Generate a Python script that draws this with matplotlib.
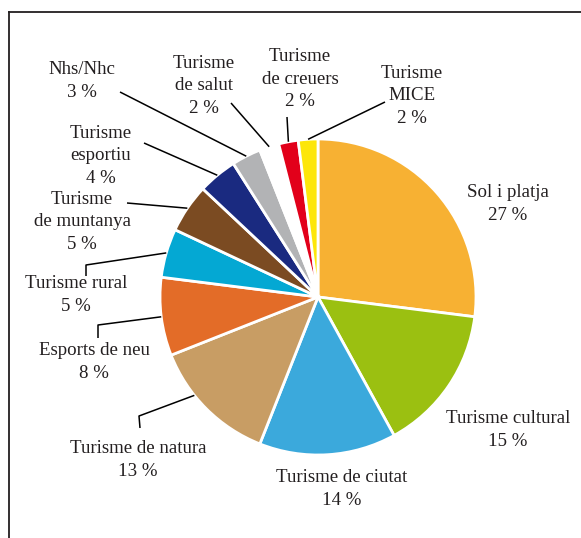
import numpy as np
import matplotlib
matplotlib.use("Agg")
import matplotlib.pyplot as plt
from matplotlib.lines import Line2D

# data
labels = ["Sol i platja", "Turisme cultural", "Turisme de ciutat", "Turisme de natura",
          "Esports de neu", "Turisme rural", "Turisme\nde muntanya", "Turisme\nesportiu",
          "Nhs/Nhc", "Turisme\nde salut", "Turisme\nde creuers", "Turisme\nMICE"]
values = [27, 15, 14, 13, 8, 5, 5, 4, 3, 2, 2, 2]
colors = ["#F7B133", "#9BC011", "#3BA9DC", "#C89D64", "#E36C28", "#04A8D3",
          "#7B4B22", "#1A2A80", "#B2B3B5", "#FFFFFF", "#E2001A", "#FDE60A"]

W, H = 581, 538
cx, cy, R = 318, 297, 158  # pie centre / radius in pixels

# label text centres (pixels, y downward)
text_pos = [(508, 204), (508, 430), (342, 489), (138, 460), (94, 362), (76, 295),
            (82, 222), (101, 156), (82, 81), (204, 86), (300, 79), (412, 96)]
# leader line points after the wedge anchor (None = no leader)
leaders = [None, None, None, [(139, 416), (140, 428)], [(98, 325), (98, 338)],
           [(86, 265), (86, 276)], [(127, 203)], [(144, 143)], [(120, 92)],
           [(231, 103)], [(287, 117)], [(385, 102)]]
anchor_shift = {3: -6.5}

fig = plt.figure(figsize=(W / 100, H / 100), dpi=100)
ax = fig.add_axes([0, 0, 1, 1])

ax.pie(values, colors=colors, startangle=90, counterclock=False,
       center=(cx, H - cy), radius=R,
       wedgeprops=dict(edgecolor="white", linewidth=2.0))
ax.set_xlim(0, W)
ax.set_ylim(0, H)
ax.set_aspect("equal")
ax.axis("off")

font = dict(family="Liberation Serif", size=13.6, color="#231F20")

cum = np.cumsum([0] + values)
for i, (lab, v) in enumerate(zip(labels, values)):
    tx, ty = text_pos[i]
    ax.text(tx, H - ty, f"{lab}\n{v} %", ha="center", va="center",
            multialignment="center", linespacing=1.44, **font)
    if leaders[i] is None:
        continue
    mid = 90 - 3.6 * (cum[i] + v / 2) + anchor_shift.get(i, 0)
    ax_pt = (cx + R * np.cos(np.radians(mid)), cy - R * np.sin(np.radians(mid)))
    pts = [ax_pt] + leaders[i]
    ax.plot([p[0] for p in pts], [H - p[1] for p in pts], color="black", lw=1.1,
            solid_capstyle="butt", zorder=3)

# frame, left and top only (the rest runs off the image)
fig.add_artist(Line2D([9 / W, 9 / W], [0, 1 - 12 / H], color="#231F20", lw=1.3,
                      transform=fig.transFigure))
fig.add_artist(Line2D([9 / W, 1], [1 - 12 / H, 1 - 12 / H], color="#231F20", lw=1.3,
                      transform=fig.transFigure))

fig.savefig("out.png", dpi=100)
